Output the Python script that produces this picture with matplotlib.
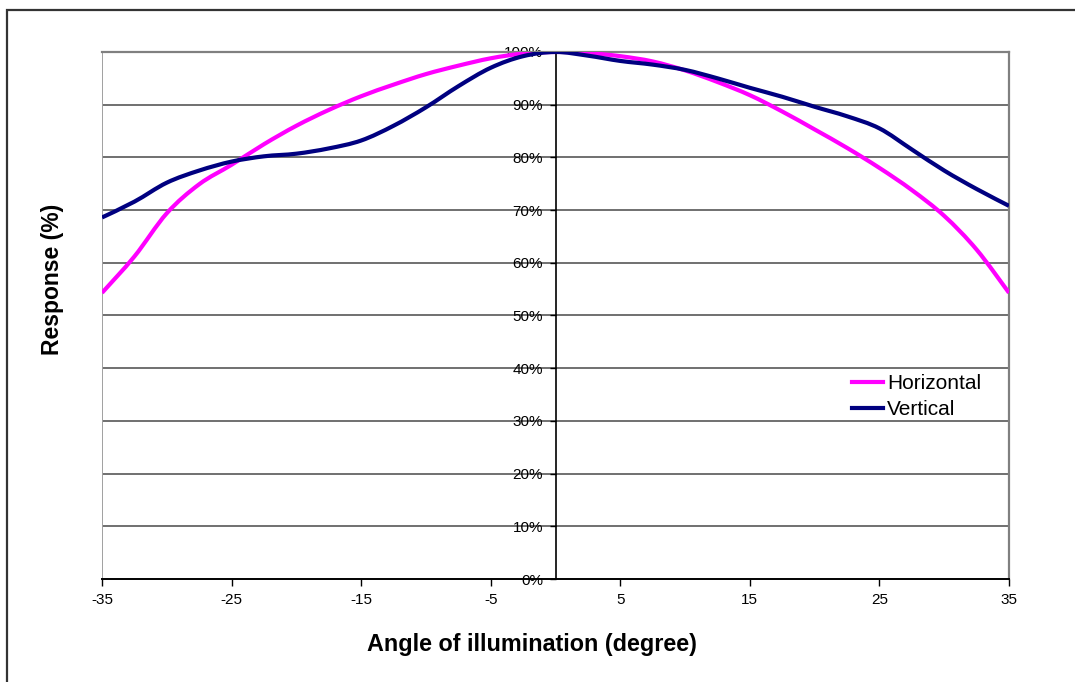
import numpy as np
import matplotlib.pyplot as plt
from matplotlib.patches import Rectangle, PathPatch
from matplotlib.path import Path
from matplotlib.lines import Line2D
from matplotlib.ticker import FuncFormatter

plt.rcParams['font.family'] = ['Liberation Sans', 'DejaVu Sans']
plt.rcParams['axes.unicode_minus'] = False

# readings, every 2.5 degrees
angle = [-35, -32.5, -30, -27.5, -25, -22.5, -20, -17.5, -15, -12.5, -10, -7.5, -5, -2.5,
         0, 2.5, 5, 7.5, 10, 12.5, 15, 17.5, 20, 22.5, 25, 27.5, 30, 32.5, 35]
horizontal = [54.3, 61.2, 69.4, 74.9, 78.6, 82.5, 86.0, 89.0, 91.6, 93.8, 95.8, 97.4, 98.8, 99.7,
              100.0, 99.8, 99.2, 98.2, 96.5, 94.3, 91.8, 88.7, 85.3, 81.8, 78.0, 73.8, 68.9, 62.5, 54.3]
vertical = [68.6, 71.6, 75.2, 77.5, 79.2, 80.2, 80.7, 81.7, 83.2, 86.0, 89.5, 93.5, 97.0, 99.2,
            100.0, 99.3, 98.3, 97.6, 96.6, 95.0, 93.2, 91.5, 89.6, 87.8, 85.5, 81.5, 77.5, 74.0, 70.8]
xticks = [-35, -25, -15, -5, 5, 15, 25, 35]
yticks = [0, 10, 20, 30, 40, 50, 60, 70, 80, 90, 100]


def smooth_path(xs, ys):
    # Excel style smoothed line: bezier segments through the points
    p = np.column_stack([xs, ys]).astype(float)
    q = np.vstack([p[:1], p, p[-1:]])
    verts = [p[0]]
    codes = [Path.MOVETO]
    for i in range(len(p) - 1):
        c1 = q[i + 1] + (q[i + 2] - q[i]) / 6
        c2 = q[i + 2] - (q[i + 3] - q[i + 1]) / 6
        verts += [c1, c2, q[i + 2]]
        codes += [Path.CURVE4] * 3
    return Path(verts, codes)


fig = plt.figure(figsize=(10.75, 6.82), dpi=100)
ax = fig.add_axes([0.0949, 0.151, 0.8437, 0.7728])

# outer chart border (runs off the right and bottom of the image)
fig.patches.append(Rectangle((7 / 1075, -0.1), 1.2, 1 - 10 / 682 + 0.1,
                             transform=fig.transFigure, fill=False,
                             edgecolor='#333333', lw=1.6))

for y in yticks[1:]:
    ax.axhline(y, color='#707070', lw=1.4, zorder=1)

series = [('Horizontal', horizontal, '#ff00ff'), ('Vertical', vertical, '#000080')]
handles = []
for name, vals, col in series:
    ax.add_patch(PathPatch(smooth_path(angle, vals), fill=False, edgecolor=col,
                           lw=3, zorder=3, capstyle='butt'))
    handles.append(Line2D([], [], color=col, lw=3, label=name))

ax.set_xlim(-35, 35)
ax.set_ylim(0, 100)

ax.spines['left'].set_position(('data', 0))
ax.spines['left'].set_color('black')
ax.spines['left'].set_linewidth(1.2)
ax.spines['bottom'].set_color('black')
ax.spines['bottom'].set_linewidth(1.4)
for s in ['top', 'right']:
    ax.spines[s].set_color('#808080')
    ax.spines[s].set_linewidth(1.6)
ax.axvline(-35, color='#a0a0a0', lw=1.4, zorder=2)

ax.set_xticks(xticks)
ax.set_yticks(yticks)
ax.yaxis.set_major_formatter(FuncFormatter(lambda v, p: '%d%%' % v))
ax.tick_params(axis='x', direction='out', length=5, width=1, labelsize=11, pad=5)
ax.tick_params(axis='y', direction='out', length=4, width=1, labelsize=11, pad=5)

fig.text(532 / 1075, 1 - 645 / 682, 'Angle of illumination (degree)', fontsize=16.8,
         fontweight='bold', ha='center', va='center')
fig.text(53 / 1075, 1 - 279 / 682, 'Response (%)', rotation=90, fontsize=16.5,
         fontweight='bold', ha='center', va='center')

ax.legend(handles=handles, loc='upper left', bbox_to_anchor=(0.824, 0.395), frameon=False,
          fontsize=15, handlelength=1.45, handletextpad=0.2,
          borderpad=0.15, labelspacing=0.36, borderaxespad=0)

fig.savefig('out.png', dpi=100)
